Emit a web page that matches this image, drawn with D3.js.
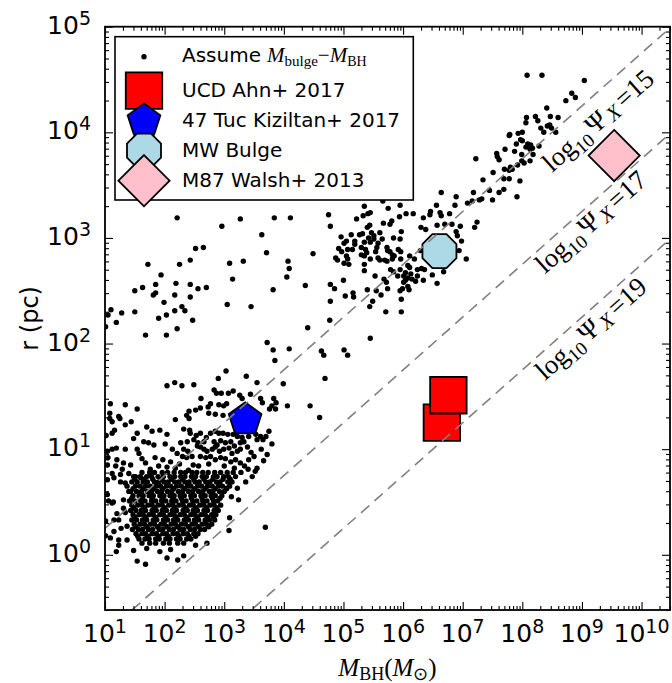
<!DOCTYPE html>
<html>
<head>
<meta charset="utf-8">
<script src="https://cdnjs.cloudflare.com/ajax/libs/d3/7.8.5/d3.min.js"></script>
<style>
  body { margin: 0; background: #fff; }
  .tick line { stroke: #000; stroke-width: 1.1px; }
</style>
</head>
<body>
<div id="chartId"></div>
<script>
// ---- data: scatter points as [log10 M_BH, log10 r] ----
// sparse points above the main cloud (upper left) and near 10^3 pc
var dotsUpperLeft = [
  [2.21,3.19],[2.96,3.11],[3.27,3.18],[3.84,3.19],[4.11,3.19],[3.63,3.03],[2.52,2.90],[2.65,2.91],
  [1.72,2.75],[2.25,2.75],[2.43,2.79],[3.09,2.76],[3.32,2.78],[3.71,2.86],[4.07,2.78],[4.09,2.71],
  [4.05,2.63],[1.94,2.65],[1.50,2.50],[1.63,2.53],[1.85,2.56],[1.81,2.46],[1.85,2.48],[2.19,2.57],
  [2.43,2.56],[2.56,2.52],[2.70,2.53],[3.14,2.61],[3.82,2.51],[2.17,2.46],[2.43,2.44],[1.99,2.39],
  [3.05,2.37],[3.45,2.35],[2.29,2.35],[2.34,2.31],[2.17,2.31],[2.03,2.27],[1.90,2.24],[1.50,2.30],
  [1.28,2.29],[1.10,2.32],[1.05,2.27],[1.19,2.20],[1.01,2.16],[2.47,2.22],[2.21,2.14],[1.68,2.08],
  [2.03,2.08],[3.72,2.01],[3.82,1.94],[4.09,1.95],[3.85,1.84]
];
// the 10^5 - 10^7 cloud around the MW bulge
var dotsMiddle = [
  [7.34,3.55],[6.64,3.43],[6.89,3.39],[7.18,3.43],[7.32,3.37],[7.28,3.36],[7.08,3.33],[7.16,3.35],
  [7.45,3.45],[5.66,3.35],[5.95,3.31],[5.35,3.30],[5.75,3.28],[5.45,3.24],[5.41,3.23],[5.33,3.21],
  [5.22,3.18],[4.75,3.22],[5.94,3.20],[6.05,3.23],[6.17,3.23],[6.46,3.25],[6.45,3.22],[6.62,3.24],
  [6.64,3.21],[6.78,3.23],[6.87,3.31],[6.56,3.31],[6.34,3.19],[5.81,3.16],[5.78,3.13],[5.67,3.14],
  [4.78,3.11],[5.44,3.12],[5.40,3.10],[6.57,3.12],[6.70,3.13],[6.82,3.13],[6.96,3.11],[7.24,3.15],
  [7.20,3.10],[6.30,3.10],[6.38,3.08],[6.89,3.06],[6.91,3.02],[5.97,3.06],[4.96,3.01],[5.13,3.03],
  [5.27,3.03],[5.32,3.04],[5.47,3.05],[5.51,3.02],[5.61,3.05],[5.65,2.99],[5.84,3.00],[5.95,2.99],
  [6.98,2.97],[5.05,2.97],[5.01,2.95],[5.19,2.97],[5.19,2.94],[5.35,2.96],[5.30,2.91],[5.42,3.00],
  [5.45,2.96],[5.51,2.99],[5.58,2.95],[5.56,2.91],[4.92,2.90],[4.97,2.87],[5.07,2.89],[5.15,2.89],
  [5.37,2.89],[5.39,2.86],[5.54,2.87],[5.73,2.91],[5.74,2.88],[5.78,2.87],[5.82,2.84],[5.92,2.89],
  [5.96,2.87],[5.85,2.83],[6.29,2.88],[6.94,2.88],[4.87,2.81],[4.90,2.79],[5.05,2.83],[5.07,2.80],
  [5.30,2.84],[5.35,2.83],[5.45,2.80],[5.58,2.81],[5.61,2.79],[5.69,2.79],[5.73,2.78],[5.82,2.80],
  [5.96,2.80],[6.11,2.83],[6.19,2.80],[7.06,2.80],[5.01,2.76],[5.09,2.75],[5.35,2.75],[5.79,2.70],
  [5.84,2.68],[5.95,2.70],[6.08,2.74],[6.11,2.72],[6.24,2.70],[6.31,2.71],[6.36,2.70],[5.35,2.69],
  [6.04,2.67],[6.13,2.66],[6.01,2.64],[6.08,2.62],[6.24,2.64],[6.49,2.65],[6.68,2.68],[5.53,2.64],
  [5.91,2.64],[5.00,2.60],[5.68,2.61],[5.72,2.58],[6.01,2.58],[6.04,2.60],[6.15,2.61],[6.21,2.59],
  [6.34,2.60],[6.57,2.57],[4.36,2.55],[4.78,2.56],[4.85,2.52],[5.40,2.51],[5.55,2.50],[5.63,2.46],
  [5.74,2.52],[5.95,2.50],[5.99,2.52],[6.08,2.54],[6.10,2.51],[5.03,2.45],[5.16,2.48],[5.17,2.44],
  [4.78,2.40],[5.49,2.40],[5.44,2.35],[5.97,2.42],[5.71,2.30],[5.97,2.30],[4.77,2.22],[4.40,2.15],
  [5.45,2.05],[4.63,1.93],[4.67,1.89],[5.01,1.94],[5.07,1.89],[4.69,1.67],[4.49,2.85]
];
// the upper branch, 10^7 - 10^9
var dotsBranch = [
  [8.08,4.54],[8.33,4.54],[9.04,4.49],[8.73,4.30],[8.83,4.37],[8.89,4.33],[8.41,4.23],[8.07,4.14],
  [8.06,4.09],[8.22,4.15],[8.26,4.11],[8.47,4.15],[8.60,4.14],[8.31,4.04],[8.42,4.06],[8.46,4.07],
  [8.49,4.04],[8.36,4.00],[8.56,4.00],[7.79,3.98],[7.78,3.97],[7.93,3.99],[8.00,4.00],[7.97,3.93],
  [8.00,3.92],[8.09,3.89],[8.14,3.88],[8.17,3.85],[8.13,3.84],[8.06,3.86],[7.90,3.89],[8.28,3.87],
  [7.71,3.84],[7.57,3.80],[7.58,3.77],[7.87,3.82],[7.99,3.79],[8.18,3.79],[7.22,3.75],[7.61,3.74],
  [7.99,3.73],[8.03,3.71],[8.13,3.73],[7.92,3.69],[7.80,3.67],[7.83,3.65],[7.78,3.64],[7.70,3.65],
  [7.51,3.62],[7.69,3.56],[7.78,3.56],[7.96,3.54],[7.69,3.46],[7.61,3.43],[7.50,3.36],[7.91,3.39]
];
// lower-left sparse points (10 - 100 pc)
var dotsLowSparse = [
  [3.03,1.74],[2.90,1.67],[3.37,1.69],[3.55,1.63],[3.99,1.62],[4.44,1.41],[4.60,1.30],[2.04,1.60],
  [2.17,1.63],[2.29,1.60],[2.49,1.61],[2.83,1.56],[2.87,1.53],[2.95,1.53],[3.07,1.53],[3.15,1.55],
  [3.26,1.51],[3.30,1.48],[3.44,1.52],[3.61,1.48],[3.64,1.44],[3.83,1.48],[3.87,1.44],[2.61,1.48],
  [2.77,1.43],[2.73,1.40],[2.91,1.42],[2.99,1.41],[3.04,1.43],[2.41,1.36],[2.37,1.32],[2.52,1.37],
  [2.60,1.39],[2.74,1.34],[2.85,1.33],[2.98,1.32],[4.06,1.41],[3.80,1.41],[3.86,1.38],[3.76,1.38],
  [1.09,1.43],[1.34,1.42],[1.54,1.38],[1.08,1.34],[1.23,1.31],[1.25,1.29],[1.08,1.29],[1.12,1.26],
  [1.44,1.26],[2.18,1.28],[2.41,1.29],[1.34,1.23],[1.70,1.21],[1.79,1.17],[1.92,1.18],[2.32,1.19],
  [2.42,1.18],[2.43,1.15],[1.16,1.18],[1.12,1.15],[1.02,1.13],[1.54,1.15],[2.04,1.14],[2.53,1.13],
  [2.60,1.15],[2.77,1.15],[2.85,1.17],[2.91,1.15],[2.98,1.15],[3.06,1.14],[3.15,1.14],[3.22,1.12],
  [3.30,1.11],[3.41,1.12],[3.53,1.14],[3.61,1.12],[3.65,1.09],[3.55,1.09],[3.75,1.17],[1.48,1.10],
  [1.65,1.07],[1.73,1.06],[1.82,1.04],[2.27,1.06],[2.38,1.07],[2.49,1.09],[2.56,1.06],[2.66,1.07],
  [2.70,1.11],[2.83,1.07],[2.88,1.04],[2.94,1.08],[3.02,1.06],[3.11,1.07],[3.17,1.03],[3.27,1.06],
  [3.39,1.02],[3.33,1.07],[2.01,1.05],[1.19,1.01],[1.12,1.00],[1.04,0.98],[1.34,1.00],[1.54,1.00],
  [1.57,0.96],[1.62,0.91],[2.13,1.00],[2.21,0.96],[2.32,1.00],[2.39,0.98],[2.46,0.93],[2.37,0.92],
  [2.30,0.93],[2.55,1.03],[2.60,1.02],[2.66,1.00],[2.71,0.98],[2.80,1.00],[2.85,1.02],[2.92,0.98],
  [2.99,1.00],[3.08,1.01],[3.13,0.96],[3.22,0.98],[3.27,1.00],[2.60,0.93],[2.69,0.92],[2.77,0.93],
  [2.85,0.90],[2.94,0.92],[3.02,0.91],[3.11,0.88],[3.19,0.90],[3.27,0.87],[3.34,0.84],[3.41,0.90],
  [3.50,0.93],[3.55,0.82],[3.52,0.79],[1.05,0.92],[1.20,0.90],[1.04,0.85],[1.18,0.84],[1.31,0.87],
  [1.43,0.85],[1.29,0.81],[1.12,0.77],[1.26,0.76],[1.40,0.77],[1.51,0.74],[1.60,0.73],[1.76,0.81],
  [1.90,0.84],[2.04,0.83],[3.70,1.12],[3.80,1.05],[3.62,1.00],[3.72,0.95],[3.45,0.97],[3.66,0.89],
  [3.47,0.74],[3.40,0.81],[2.10,0.88],[2.25,0.86],[2.48,0.85],[2.18,0.82],[2.40,0.80],[2.57,0.84],
  [1.97,0.90],[1.68,0.87],[1.84,0.92],[2.74,0.86],[3.00,0.84],[3.17,0.82]
];
// points around the dense core
var dotsCoreEdge = [
  [1.54,-0.06],[1.68,-0.09],[2.04,-0.03],[2.22,-0.05],[2.32,-0.01],[1.92,0.03],[2.10,0.05],[1.70,0.06],
  [1.48,0.04],[1.19,0.03],[1.23,0.14],[1.15,0.22],[1.01,0.18],[2.52,0.09],[2.71,0.11],[3.08,0.23],
  [3.09,0.35],[3.69,0.26],[3.24,0.52],[3.36,0.69],[3.22,0.63],[3.04,0.63],[3.12,0.55],[1.04,0.57],
  [1.06,0.51],[1.14,0.50],[1.31,0.44],[1.34,0.40],[1.01,0.32],[1.23,0.33],[1.27,0.25],[1.37,0.27],
  [1.04,0.71],[1.15,0.73],[1.26,0.69],[1.37,0.65],[1.12,0.49],[1.20,0.39],[1.15,0.33],[1.37,0.14],
  [1.23,0.09],[1.09,0.16],[1.31,0.52],[1.40,0.60],[1.34,0.68]
];
// the dense core near 10^2 Msun, 2-3 pc: each row is [log10 r, [log10 M ...]]
var coreRows = [
  [0.78, [1.62,1.75,1.83,1.96,2.05,2.16,2.27,2.35,2.46,2.54,2.64,2.73,2.84,2.94,3.05,3.15,3.28]],
  [0.74, [1.48,1.59,1.70,1.78,1.89,1.98,2.09,2.17,2.27,2.34,2.45,2.52,2.63,2.70,2.82,2.88,2.99,3.07,3.19]],
  [0.715, [1.50,1.66,1.80,1.95,2.12,2.30,2.49,2.66,2.81,2.98,3.10]],
  [0.69, [1.45,1.54,1.64,1.71,1.83,1.90,1.99,2.06,2.17,2.24,2.34,2.41,2.51,2.58,2.69,2.76,2.87,2.93,3.06,3.13]],
  [0.65, [1.51,1.59,1.68,1.76,1.86,1.93,2.03,2.10,2.20,2.28,2.38,2.44,2.55,2.62,2.72,2.80,2.90,2.97,3.09]],
  [0.625, [1.47,1.64,1.82,1.97,2.15,2.33,2.50,2.68,2.85,3.04]],
  [0.60, [1.43,1.53,1.61,1.71,1.78,1.88,1.95,2.05,2.12,2.23,2.30,2.40,2.47,2.57,2.64,2.75,2.81,2.92,3.00]],
  [0.56, [1.47,1.57,1.64,1.74,1.81,1.92,1.99,2.09,2.16,2.26,2.33,2.44,2.50,2.61,2.68,2.78,2.85,2.96]],
  [0.535, [1.45,1.62,1.79,1.96,2.14,2.28,2.45,2.63,2.80,2.93]],
  [0.51, [1.41,1.50,1.60,1.67,1.78,1.85,1.95,2.02,2.12,2.19,2.30,2.36,2.47,2.54,2.64,2.71,2.82,2.89]],
  [0.47, [1.45,1.55,1.62,1.72,1.79,1.89,1.96,2.07,2.14,2.24,2.31,2.42,2.48,2.59,2.66,2.76,2.83,2.94]],
  [0.445, [1.48,1.66,1.83,2.00,2.17,2.35,2.52,2.70,2.87]],
  [0.42, [1.43,1.52,1.61,1.68,1.79,1.86,1.96,2.03,2.13,2.20,2.31,2.38,2.48,2.55,2.66,2.72,2.83,2.90]],
  [0.38, [1.47,1.57,1.64,1.74,1.81,1.92,1.98,2.09,2.16,2.26,2.33,2.44,2.51,2.61,2.68,2.79,2.86]],
  [0.355, [1.50,1.68,1.85,2.02,2.19,2.37,2.55,2.72,2.82]],
  [0.33, [1.45,1.53,1.63,1.70,1.81,1.87,1.98,2.05,2.15,2.22,2.33,2.40,2.50,2.57,2.68,2.75,2.84]],
  [0.29, [1.49,1.59,1.66,1.76,1.83,1.94,2.00,2.11,2.18,2.28,2.35,2.46,2.52,2.63,2.70,2.79]],
  [0.265, [1.52,1.70,1.88,2.04,2.22,2.40,2.57,2.74]],
  [0.24, [1.46,1.56,1.63,1.73,1.80,1.91,1.97,2.08,2.15,2.26,2.32,2.43,2.50,2.60,2.67]],
  [0.20, [1.52,1.62,1.68,1.79,1.86,1.97,2.03,2.14,2.21,2.31,2.38,2.49,2.56]],
  [0.175, [1.55,1.72,1.90,2.06,2.24,2.41,2.52]],
  [0.15, [1.57,1.67,1.74,1.85,1.91,2.02,2.09,2.20,2.26,2.37,2.44]],
  [0.11, [1.62,1.75,1.85,1.98,2.08,2.22,2.32]]
];

// individual objects [M_BH (Msun), r (pc)]
var ucdAhn = [[4.47e6, 17.8], [5.75e6, 32.4]];
var tuc47 = [[2.24e3, 19.1]];
var mwBulge = [[4.07e6, 750]];
var m87 = [[3.47e9, 6030]];

// Psi_X reference lines and where their labels sit [M, r]
var psiLevels = [15, 17, 19];
var psiLabelAt = [[2.34e9, 11200], [1.78e9, 1230], [1.78e9, 120]];

var xTickExps = [1, 2, 3, 4, 5, 6, 7, 8, 9, 10];
var yTickExps = [0, 1, 2, 3, 4, 5];

// ---- layout ----
var W = 672, H = 683;
var plotL = 105, plotR = 670, plotT = 26.7, plotB = 610;

var x = d3.scaleLog().domain([10, 3e10]).range([plotL, plotR]);
var y = d3.scaleLog().domain([0.3, 1e5]).range([plotB, plotT]);

var svg = d3.select("#chartId").append("svg")
  .attr("width", W).attr("height", H);

svg.append("clipPath").attr("id", "clip")
  .append("rect").attr("x", plotL).attr("y", plotT)
  .attr("width", plotR - plotL).attr("height", plotB - plotT);

var plot = svg.append("g").attr("clip-path", "url(#clip)");

// all the scatter points
var coreDots = [];
coreRows.forEach(function(row) {
  row[1].forEach(function(m) { coreDots.push([m, row[0]]); });
});
var allDots = [].concat(dotsUpperLeft, dotsMiddle, dotsBranch, dotsLowSparse, dotsCoreEdge, coreDots);

plot.selectAll(".dot")
  .data(allDots)
  .enter()
  .append("circle")
  .attr("class", "dot")
  .attr("cx", function(d) { return x(Math.pow(10, d[0])); })
  .attr("cy", function(d) { return y(Math.pow(10, d[1])); })
  .attr("r", 2.7)
  .attr("fill", "#000");

// regular polygon path centred on 0,0
function polygon(n, R, rot) {
  var pts = [];
  for (var k = 0; k < n; k++) {
    var a = (-90 + rot + k * 360 / n) * Math.PI / 180;
    pts.push([R * Math.cos(a), R * Math.sin(a)]);
  }
  return "M" + pts.map(function(p) { return p[0].toFixed(2) + "," + p[1].toFixed(2); }).join("L") + "Z";
}

var shapes = {
  square:   { path: polygon(4, 25.8, 45),  fill: "#ff0000" },
  pentagon: { path: polygon(5, 17.2, 0),   fill: "#0000ff" },
  octagon:  { path: polygon(8, 18.4, 22.5), fill: "#add8e6" },
  diamond:  { path: polygon(4, 25.6, 0),   fill: "#ffc0cb" }
};

function drawMarkers(data, shape) {
  plot.selectAll(".m-" + shape)
    .data(data)
    .enter()
    .append("path")
    .attr("class", "m-" + shape)
    .attr("d", shapes[shape].path)
    .attr("transform", function(d) { return "translate(" + x(d[0]) + "," + y(d[1]) + ")"; })
    .attr("fill", shapes[shape].fill)
    .attr("stroke", "#000")
    .attr("stroke-width", 1.8);
}
drawMarkers(ucdAhn, "square");
drawMarkers(tuc47, "pentagon");
drawMarkers(mwBulge, "octagon");
drawMarkers(m87, "diamond");

// dashed lines: log r = (log M + 14.5 - psi) / 2
var psiOffset = 14.5;
var line = d3.line()
  .x(function(d) { return x(d[0]); })
  .y(function(d) { return y(d[1]); });

psiLevels.forEach(function(psi) {
  var ends = x.domain().map(function(m) { return [m, Math.sqrt(m * Math.pow(10, psiOffset - psi))]; });
  plot.append("path")
    .attr("d", line(ends))
    .attr("fill", "none")
    .attr("stroke", "#808080")
    .attr("stroke-width", 1.6)
    .attr("stroke-dasharray", "11,7");
});

// line angle on screen
var m1 = 1e3, m2 = 1e9;
var ang = Math.atan2(y(Math.sqrt(m2)) - y(Math.sqrt(m1)), x(m2) - x(m1)) * 180 / Math.PI;

var serif = "'Liberation Serif', 'Times New Roman', serif";
psiLevels.forEach(function(psi, i) {
  var p = psiLabelAt[i];
  var t = svg.append("text")
    .attr("transform", "translate(" + x(p[0]) + "," + y(p[1]) + ") rotate(" + ang + ")")
    .attr("text-anchor", "middle")
    .attr("font-family", serif)
    .attr("font-size", 27)
    .attr("fill", "#000");
  t.append("tspan").text("log");
  t.append("tspan").attr("font-size", 19).attr("dy", 6).text("10");
  t.append("tspan").attr("dy", -6).attr("dx", 3).text("Ψ");
  t.append("tspan").attr("font-size", 21).attr("font-style", "italic").attr("dy", 3).attr("dx", 3).text("X");
  t.append("tspan").attr("dy", -3).attr("dx", 4).text("=" + psi);
});

// ---- axes: ticks inward on all four sides ----
var xMinor = [], yMinor = [];
for (var e = 1; e <= 10; e++) {
  for (var m = 2; m <= 9; m++) {
    var v = m * Math.pow(10, e);
    if (v <= 3e10) xMinor.push(v);
  }
}
for (var e2 = -1; e2 <= 4; e2++) {
  for (var m3 = 2; m3 <= 9; m3++) {
    var v2 = m3 * Math.pow(10, e2);
    if (v2 >= 0.3 && v2 <= 1e5) yMinor.push(v2);
  }
}
var xMajor = xTickExps.map(function(e) { return Math.pow(10, e); });
var yMajor = yTickExps.map(function(e) { return Math.pow(10, e); });

function addAxis(axis, tx, ty) {
  var g = svg.append("g").attr("transform", "translate(" + tx + "," + ty + ")").call(axis);
  g.select(".domain").remove();
  g.selectAll("text").remove();
  return g;
}
addAxis(d3.axisBottom(x).tickValues(xMajor).tickSize(-8), 0, plotB);
addAxis(d3.axisBottom(x).tickValues(xMinor).tickSize(-4), 0, plotB);
addAxis(d3.axisTop(x).tickValues(xMajor).tickSize(-8), 0, plotT);
addAxis(d3.axisTop(x).tickValues(xMinor).tickSize(-4), 0, plotT);
addAxis(d3.axisLeft(y).tickValues(yMajor).tickSize(-8), plotL, 0);
addAxis(d3.axisLeft(y).tickValues(yMinor).tickSize(-4), plotL, 0);
addAxis(d3.axisRight(y).tickValues(yMajor).tickSize(-8), plotR, 0);
addAxis(d3.axisRight(y).tickValues(yMinor).tickSize(-4), plotR, 0);

svg.append("rect")
  .attr("x", plotL).attr("y", plotT)
  .attr("width", plotR - plotL).attr("height", plotB - plotT)
  .attr("fill", "none").attr("stroke", "#000").attr("stroke-width", 1.8);

var sans = "'DejaVu Sans', sans-serif";
// x tick labels 10^n
xTickExps.forEach(function(e) {
  var t = svg.append("text")
    .attr("x", x(Math.pow(10, e))).attr("y", 642)
    .attr("text-anchor", "middle")
    .attr("font-family", sans).attr("font-size", 25);
  t.append("tspan").text("10");
  t.append("tspan").attr("font-size", 19).attr("dy", -9).text(e);
});
// y tick labels 10^n
yTickExps.forEach(function(e) {
  var t = svg.append("text")
    .attr("x", 91).attr("y", y(Math.pow(10, e)) + 7)
    .attr("text-anchor", "end")
    .attr("font-family", sans).attr("font-size", 25);
  t.append("tspan").text("10");
  t.append("tspan").attr("font-size", 19).attr("dy", -9).text(e);
});

// axis titles
svg.append("text")
  .attr("transform", "translate(38," + ((plotT + plotB) / 2) + ") rotate(-90)")
  .attr("text-anchor", "middle")
  .attr("font-family", sans).attr("font-size", 24)
  .text("r (pc)");

var xt = svg.append("text")
  .attr("x", (plotL + plotR) / 2).attr("y", 676)
  .attr("text-anchor", "middle")
  .attr("font-family", serif).attr("font-size", 25);
xt.append("tspan").attr("font-style", "italic").text("M");
xt.append("tspan").attr("font-size", 18).attr("dy", 4).text("BH");
xt.append("tspan").attr("dy", -4).text("(");
xt.append("tspan").attr("font-style", "italic").text("M");
xt.append("tspan").attr("font-size", 18).attr("dy", 4).text("⊙");
xt.append("tspan").attr("dy", -4).text(")");

// ---- legend ----
var legendLabels = ["Assume", "UCD Ahn+ 2017", "47 Tuc Kiziltan+ 2017", "MW Bulge", "M87 Walsh+ 2013"];
var legendShapes = ["dot", "square", "pentagon", "octagon", "diamond"];
var legendBase = [61.7, 96.7, 126.7, 156.7, 186.7];

var lg = svg.append("g");
lg.append("rect")
  .attr("x", 115).attr("y", 36.7).attr("width", 298.3).attr("height", 163.3)
  .attr("fill", "#fff").attr("stroke", "#000").attr("stroke-width", 1.6);

legendShapes.forEach(function(s, i) {
  var cy = legendBase[i] - 6;
  if (s === "dot") {
    lg.append("circle").attr("cx", 144).attr("cy", legendBase[i] - 5).attr("r", 2.7).attr("fill", "#000");
  } else {
    lg.append("path")
      .attr("d", shapes[s].path)
      .attr("transform", "translate(144," + cy + ")")
      .attr("fill", shapes[s].fill)
      .attr("stroke", "#000").attr("stroke-width", 1.8);
  }
});
legendLabels.forEach(function(lab, i) {
  var t = lg.append("text")
    .attr("x", 182).attr("y", legendBase[i])
    .attr("font-family", sans).attr("font-size", 20)
    .text(lab);
  if (i === 0) {
    t.append("tspan").attr("font-family", serif).attr("font-style", "italic").attr("font-size", 21).attr("dx", 6).text("M");
    t.append("tspan").attr("font-family", serif).attr("font-size", 15).attr("dy", 4).text("bulge");
    t.append("tspan").attr("font-family", serif).attr("font-size", 21).attr("dy", -4).text("−");
    t.append("tspan").attr("font-family", serif).attr("font-style", "italic").attr("font-size", 21).text("M");
    t.append("tspan").attr("font-family", serif).attr("font-size", 14).attr("dy", 4).text("BH");
  }
});
</script>
</body>
</html>
